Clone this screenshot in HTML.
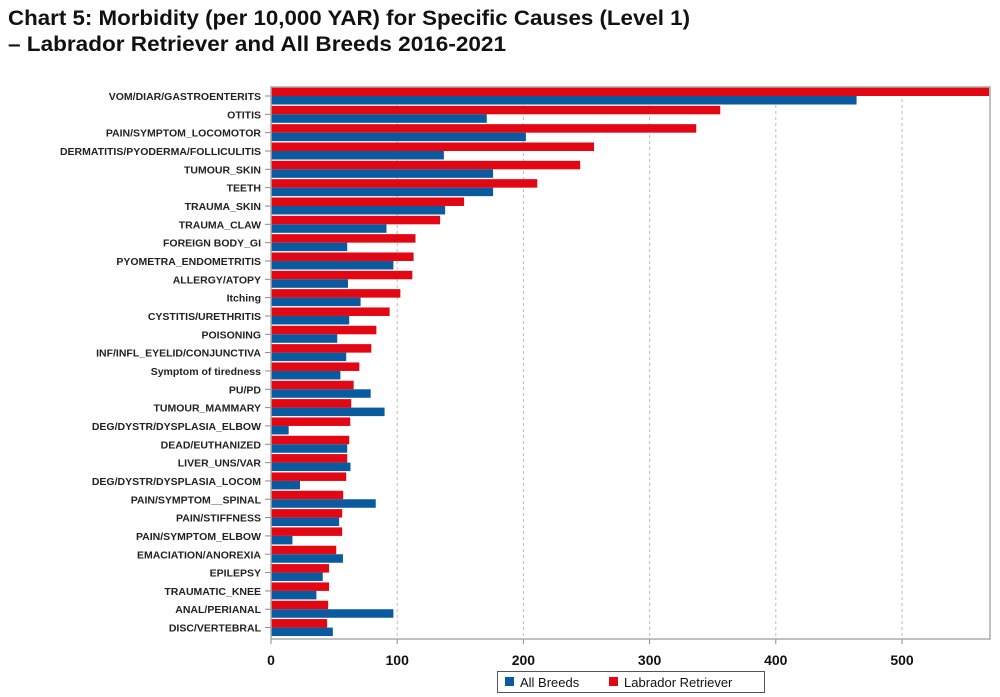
<!DOCTYPE html>
<html><head><meta charset="utf-8"><style>
body{margin:0;background:#fff;width:1000px;height:697px;overflow:hidden}
svg{display:block;font-family:"Liberation Sans",sans-serif}
</style></head><body>
<svg id="chart" width="1000" height="697" viewBox="0 0 1000 697">
<text x="8" y="25" font-size="21" font-weight="bold" fill="#111" textLength="682" lengthAdjust="spacingAndGlyphs">Chart 5: Morbidity (per 10,000 YAR) for Specific Causes (Level 1)</text>
<text x="8" y="51" font-size="21" font-weight="bold" fill="#111" textLength="498" lengthAdjust="spacingAndGlyphs">–  Labrador Retriever and All Breeds 2016-2021</text>
<g id="grid"></g>
<g id="bars"></g>
<g id="axes"></g>
<g>
<rect x="497.5" y="671.5" width="267" height="21" fill="#fff" stroke="#555"/>
<rect x="505" y="677" width="9" height="9" fill="#0a5aa0"/>
<text x="520" y="687" font-size="13" fill="#111">All Breeds</text>
<rect x="609" y="677" width="9" height="9" fill="#e30613"/>
<text x="624" y="687" font-size="13" fill="#111">Labrador Retriever</text>
</g>
</svg>
<script>
const categories=["VOM/DIAR/GASTROENTERITS","OTITIS","PAIN/SYMPTOM_LOCOMOTOR","DERMATITIS/PYODERMA/FOLLICULITIS","TUMOUR_SKIN","TEETH","TRAUMA_SKIN","TRAUMA_CLAW","FOREIGN BODY_GI","PYOMETRA_ENDOMETRITIS","ALLERGY/ATOPY","Itching","CYSTITIS/URETHRITIS","POISONING","INF/INFL_EYELID/CONJUNCTIVA","Symptom of tiredness","PU/PD","TUMOUR_MAMMARY","DEG/DYSTR/DYSPLASIA_ELBOW","DEAD/EUTHANIZED","LIVER_UNS/VAR","DEG/DYSTR/DYSPLASIA_LOCOM","PAIN/SYMPTOM__SPINAL","PAIN/STIFFNESS","PAIN/SYMPTOM_ELBOW","EMACIATION/ANOREXIA","EPILEPSY","TRAUMATIC_KNEE","ANAL/PERIANAL","DISC/VERTEBRAL"];
const labradorValues=[569,356,337,256,245,211,153,134,114.5,113,112,102.5,94,83.5,79.5,70,65.5,63.6,62.8,62,60.4,59.6,57.2,56.4,56.4,51.7,46,46,45.3,44.5];
const allBreedsValues=[464,171,202,137,176,176,138,91.5,60.4,97,61,71,62,52.5,59.6,55,79,90,14,60.4,63,23,83,54,17,57,41,36,97,49];
const tickValues=[0,100,200,300,400,500];
const NS="http://www.w3.org/2000/svg";
const X0=271,PX=1.262,TOP=96,STEP=18.33,LEFT=271,RIGHT=990,PTOP=87,BOTTOM=639;
const x=v=>X0+v*PX;
const y=i=>TOP+i*STEP;
function mk(tag,attrs,parent){const e=document.createElementNS(NS,tag);for(const k in attrs)e.setAttribute(k,attrs[k]);parent.appendChild(e);return e;}
const grid=document.getElementById('grid'),bars=document.getElementById('bars'),axes=document.getElementById('axes');
tickValues.forEach(t=>{
  if(t>0){const g=mk('line',{x1:x(t),x2:x(t),y1:PTOP,y2:BOTTOM,stroke:'#bbb','stroke-dasharray':'3,3'},grid);
  
  }
  const tk=mk('line',{x1:x(t),x2:x(t),y1:BOTTOM,y2:BOTTOM+5,stroke:'#888'},axes);
  
  
  const tl=mk('text',{x:x(t),y:665,'font-size':14,'font-weight':'bold','text-anchor':'middle',fill:'#111'},axes);
  tl.textContent=t;
  
  
});
categories.forEach((c,i)=>{
  const r=mk('rect',{x:LEFT,y:y(i)-8.5,width:labradorValues[i]*PX,height:8.5,fill:'#e30613'},bars);
  
  
  const b=mk('rect',{x:LEFT,y:y(i),width:allBreedsValues[i]*PX,height:8.5,fill:'#0a5aa0'},bars);
  
  
  const tk=mk('line',{x1:LEFT-6,x2:LEFT,y1:y(i),y2:y(i),stroke:'#888'},axes);
  
  
  const t=mk('text',{x:LEFT-10,y:y(i)+4,'font-size':10.5,'font-weight':'bold','text-anchor':'end',fill:'#222'},axes);
  t.textContent=c;
  
  
});
const f=mk('rect',{x:LEFT,y:PTOP,width:RIGHT-LEFT,height:BOTTOM-PTOP,fill:'none',stroke:'#aaa','stroke-width':1.5},axes);


</script>
</body></html>
